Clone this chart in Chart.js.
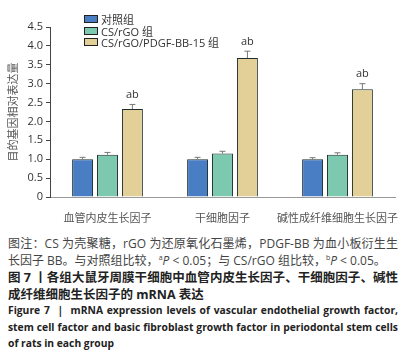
<!DOCTYPE html>
<html>
<head>
<meta charset="utf-8">
<script src="https://cdn.jsdelivr.net/npm/chart.js@4"></script>
<style>
  body { margin: 0; background: #fff; width: 406px; height: 358px; overflow: hidden; position: relative; }
  #wrap { position: absolute; left: 0; top: 0; width: 406px; height: 225px; }
  #legend { position: absolute; left: 84px; top: 14px; font: 11px "Open Sans", "Noto Sans CJK SC", sans-serif; color: #333; }
  #legend div { height: 11.5px; line-height: 11.5px; white-space: nowrap; }
  #legend span.box { display: inline-block; width: 12px; height: 6px; border: 1px solid #222; margin-right: 3px; vertical-align: 1px; }
  #caption { position: absolute; left: 8px; top: 234px; width: 390px; }
  .ln { white-space: nowrap; height: 16.5px; line-height: 16.5px; }
  .full { text-align: justify; text-align-last: justify; }
  .note { font: 12px "Open Sans", "Noto Sans CJK SC", sans-serif; color: #444; }
  .cn { font: bold 12.5px "Open Sans", "Noto Sans CJK SC", sans-serif; color: #222; }
  .en { font: bold 10.3px "Open Sans", "Noto Sans", sans-serif; color: #222; height: 16.5px; }
  .gap { margin-top: 3px; }
  sup { font-size: 7px; vertical-align: 5px; }
</style>
</head>
<body>
<div id="wrap"><canvas id="chart"></canvas></div>
<div id="legend"></div>
<div id="caption">
  <div class="ln full note">图注：CS 为壳聚糖，rGO 为还原氧化石墨烯，PDGF-BB 为血小板衍生生</div>
  <div class="ln note">长因子 BB。与对照组比较，<sup>a</sup><i>P</i> &lt; 0.05；与 CS/rGO 组比较，<sup>b</sup><i>P</i> &lt; 0.05。</div>
  <div class="ln full cn">图 7 丨各组大鼠牙周膜干细胞中血管内皮生长因子、干细胞因子、碱性</div>
  <div class="ln cn">成纤维细胞生长因子的 mRNA 表达</div>
  <div class="ln full en gap">Figure 7 &nbsp;|&nbsp; mRNA expression levels of vascular endothelial growth factor,</div>
  <div class="ln full en">stem cell factor and basic fibroblast growth factor in periodontal stem cells</div>
  <div class="ln en">of rats in each group</div>
</div>
<script>
// categories and groups
const categories = ['血管内皮生长因子', '干细胞因子', '碱性成纤维细胞生长因子'];
const groupNames = ['对照组', 'CS/rGO 组', 'CS/rGO/PDGF-BB-15 组'];
const groupColors = ['#4a7ec4', '#7dc9b0', '#e3cf98'];

// relative expression (mean) and error (SD) per group
const controlVals = [1.00, 1.00, 1.00];
const csrgoVals = [1.12, 1.15, 1.12];
const pdgfVals = [2.33, 3.68, 2.85];
const controlErr = [0.05, 0.05, 0.04];
const csrgoErr = [0.06, 0.06, 0.05];
const pdgfErr = [0.12, 0.18, 0.15];
const pdgfSig = ['ab', 'ab', 'ab'];

const yTicks = [0, 0.5, 1.0, 1.5, 2.0, 2.5, 3.0, 3.5, 4.0, 4.5];

const seriesVals = [controlVals, csrgoVals, pdgfVals];
const seriesErr = [controlErr, csrgoErr, pdgfErr];
const seriesSig = [null, null, pdgfSig];

const latinFont = '"Open Sans", "Noto Sans CJK SC", sans-serif';

// html legend
const legend = document.getElementById('legend');
groupNames.forEach((name, i) => {
    const row = document.createElement('div');
    row.innerHTML = '<span class="box" style="background:' + groupColors[i] + '"></span>' + name;
    legend.appendChild(row);
});

// error bars + significance letters
const errorBars = {
    id: 'errorBars',
    afterDatasetsDraw(chart) {
        const c = chart.ctx;
        const y = chart.scales.y;
        chart.data.datasets.forEach((ds, di) => {
            const meta = chart.getDatasetMeta(di);
            meta.data.forEach((bar, i) => {
                const v = seriesVals[di][i];
                const top = y.getPixelForValue(v + seriesErr[di][i]);
                const base = y.getPixelForValue(v);
                c.save();
                c.strokeStyle = '#777';
                c.lineWidth = 1;
                c.beginPath();
                c.moveTo(bar.x, base);
                c.lineTo(bar.x, top);
                c.moveTo(bar.x - 3, top);
                c.lineTo(bar.x + 3, top);
                c.stroke();
                if (seriesSig[di]) {
                    c.fillStyle = '#333';
                    c.font = '11px ' + latinFont;
                    c.textAlign = 'center';
                    c.textBaseline = 'bottom';
                    c.fillText(seriesSig[di][i], bar.x, top - 4);
                }
                c.restore();
            });
        });
    }
};

new Chart(document.getElementById('chart'), {
    type: 'bar',
    data: {
        labels: categories,
        datasets: seriesVals.map((vals, i) => ({
            label: groupNames[i],
            data: vals,
            backgroundColor: groupColors[i],
            borderColor: '#1e2b2b',
            borderWidth: 1,
            categoryPercentage: 0.65,
            barPercentage: 0.84
        }))
    },
    options: {
        responsive: true,
        maintainAspectRatio: false,
        animation: false,
        layout: { padding: { top: 27, right: 11, left: 0, bottom: 0 } },
        plugins: {
            legend: { display: false },
            tooltip: { enabled: false }
        },
        scales: {
            x: {
                grid: { display: false },
                border: { color: '#999', width: 1 },
                ticks: {
                    color: '#555',
                    font: { size: 11, family: '"Noto Sans CJK SC", sans-serif' },
                    padding: 6,
                    maxRotation: 0,
                    minRotation: 0,
                    autoSkip: false
                },
                afterFit(scale) { scale.height = 28; }
            },
            y: {
                min: 0,
                max: 4.5,
                afterBuildTicks(scale) { scale.ticks = yTicks.map(v => ({ value: v })); },
                grid: { drawOnChartArea: false, drawTicks: true, tickLength: 4, color: '#444' },
                border: { color: '#444', width: 1 },
                ticks: {
                    color: '#333',
                    font: { size: 11, family: latinFont },
                    padding: 3,
                    callback: v => v === 0 ? '0' : v.toFixed(1)
                },
                title: {
                    display: true,
                    text: '目的基因相对表达量',
                    color: '#555',
                    font: { size: 11, family: '"Noto Sans CJK SC", sans-serif' },
                    padding: { top: 6, bottom: 0 }
                },
                afterFit(scale) { scale.width = 50; }
            }
        }
    },
    plugins: [errorBars]
});
</script>
</body>
</html>
